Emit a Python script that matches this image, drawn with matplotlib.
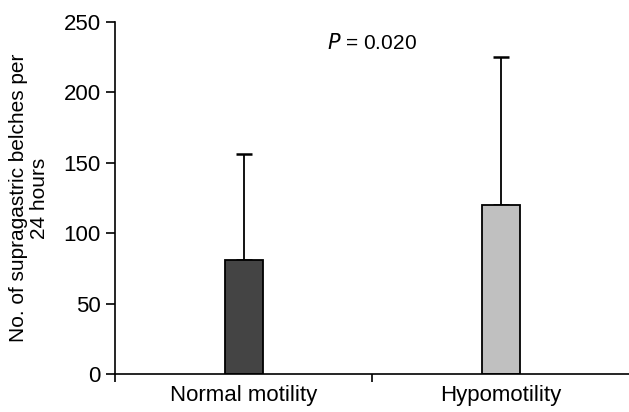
import numpy as np
from matplotlib import pyplot as plt

plt.rcParams['font.family'] = ['Liberation Sans', 'DejaVu Sans']

groups = ['Normal motility', 'Hypomotility']
means = [81, 120]
upperErr = [75, 105]  # bar top to whisker end
barColors = ['#444444', '#c0c0c0']
pText = 'P'
pValue = '0.020'

fig = plt.figure(figsize=(6.29, 4.12), dpi=100)
ax = fig.add_axes([0.183, 0.092, 0.817, 0.855])

pos = np.arange(len(groups))
ax.bar(pos, means, width=0.148, color=barColors, edgecolor='black', linewidth=1.3, zorder=2)
ax.errorbar(pos, means, yerr=[np.zeros(len(means)), upperErr], fmt='none',
            ecolor='black', elinewidth=1.3, capsize=6, capthick=1.8, zorder=1)

ax.set_xlim(-0.5, 1.5)
ax.set_ylim(0, 250)
ax.set_yticks(np.arange(0, 251, 50))
ax.set_xticks([-0.5, 0.5])
ax.set_xticklabels([])
ax.set_xticks(pos, minor=True)
ax.set_xticklabels(groups, minor=True, fontsize=16)
ax.tick_params(axis='x', which='minor', length=0, pad=8)
ax.tick_params(axis='x', which='major', length=6, width=1.2)
ax.tick_params(axis='y', length=6.5, width=1.2, labelsize=16, pad=4)

for s in ['top', 'right']:
    ax.spines[s].set_visible(False)
for s in ['left', 'bottom']:
    ax.spines[s].set_linewidth(1.2)

ax.set_ylabel('No. of supragastric belches per\n24 hours', fontsize=15, labelpad=10, linespacing=1.15)
ax.text(0.5, 235, '$\\it{' + pText + '}$ = ' + pValue, ha='center', va='center', fontsize=15)

fig.savefig('out.png', dpi=100)
